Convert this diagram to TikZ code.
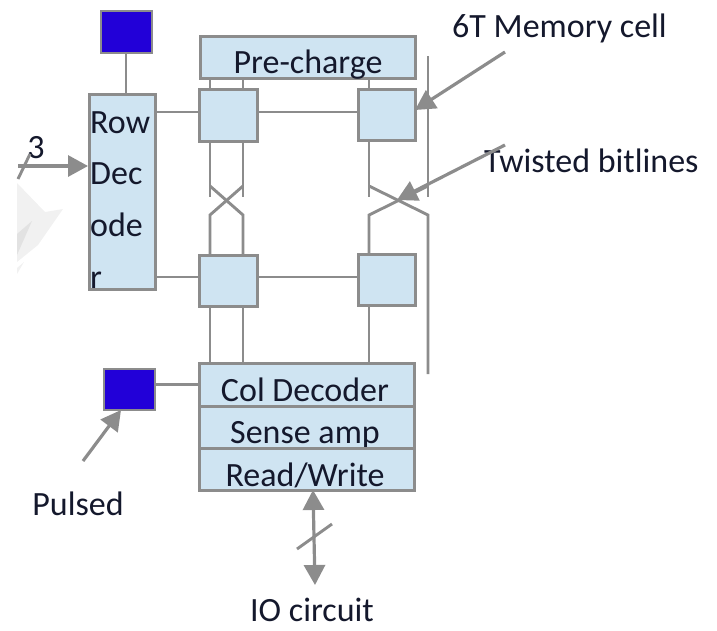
\documentclass[tikz,border=0pt]{standalone}
\usepackage{fontspec}
\setmainfont{Carlito}
\usetikzlibrary{arrows.meta,calc}
\definecolor{cellfill}{HTML}{CFE4F2}
\definecolor{wire}{HTML}{8C8C8C}
\definecolor{pad}{HTML}{2200D8}
\definecolor{ink}{HTML}{14182C}
\definecolor{wm}{HTML}{F1F1F1}
\definecolor{wmdark}{HTML}{E2E2E2}
\tikzset{
  box/.style={draw=wire,fill=cellfill,line width=2.8pt,inner sep=0pt,anchor=north west},
  padbox/.style={draw=wire,fill=pad,line width=2.4pt,inner sep=0pt,anchor=north west},
  conn/.style={draw=wire,line width=2.9pt},
  arrowline/.style={draw=wire,line width=3.2pt,-{Triangle[length=20pt,width=21pt]}},
  bothline/.style={draw=wire,line width=3.2pt,{Triangle[length=20pt,width=21pt]}-{Triangle[length=20pt,width=21pt]}},
  txt/.style={font=\fontsize{34}{34}\selectfont,text=ink,inner sep=0pt,anchor=base},
  ltxt/.style={txt,anchor=base west},
}
\newcommand{\sizedbox}[5]{\node[#5,minimum width=#3pt,minimum height=#4pt] (#1) at (#2) {};}
\begin{document}
\begin{tikzpicture}[x=1pt,y=-1pt]
\useasboundingbox (0,0) rectangle (717,630);
% faint watermark
\fill[wm] (17,183) -- (45,212) -- (63,209) -- (38,245) -- (17,262) -- cycle;
\fill[wmdark] (17,234) -- (32,221) -- (17,255) -- cycle;
\fill[wm] (17,268) -- (24,262) -- (17,274) -- cycle;
% helper coordinates for bitlines
\coordinate (b1) at (210,0);
\coordinate (b2) at (243,0);
\coordinate (b3) at (369,0);
\coordinate (b4) at (428,0);
\coordinate (xtop) at (0,186);
\coordinate (xstub) at (0,197);
\coordinate (xbot) at (0,215);
% boxes
\sizedbox{tp}{100,10}{51}{42}{padbox}
\sizedbox{rd}{88,93}{66}{195}{box}
\sizedbox{pc}{199,35}{215}{42}{box}
\sizedbox{c1}{198,88}{58}{52}{box}
\sizedbox{c2}{357,88}{57}{51}{box}
\sizedbox{c3}{198,254}{58}{51}{box}
\sizedbox{c4}{357,253}{57}{51}{box}
\sizedbox{bp}{103,368}{51}{41}{padbox}
\sizedbox{cd}{198,362}{215}{43}{box}
% bitlines
\draw[conn] (b1 |- pc.south) -- (b1 |- c1.north);
\draw[conn] (b2 |- pc.south) -- (b2 |- c1.north);
\draw[conn] (b3 |- pc.south) -- (b3 |- c2.north);
\draw[conn] (b1 |- c1.south) -- (b1 |- xstub);
\draw[conn] (b2 |- c1.south) -- (b2 |- xstub);
\draw[conn] (b3 |- c2.south) -- (b3 |- xstub);
\coordinate (b4top) at (428,56);
\coordinate (b4end) at (428,374);
\draw[conn] (b4top) -- (b4 |- xstub);
\draw[conn] (b1 |- xtop) -- (b2 |- xbot) -- (b2 |- c3.north);
\draw[conn] (b2 |- xtop) -- (b1 |- xbot) -- (b1 |- c3.north);
\draw[conn] (b3 |- xtop) -- (b4 |- xbot) -- (b4end);
\draw[conn] (b4 |- xtop) -- (b3 |- xbot) -- (b3 |- c4.north);
\draw[conn] (b1 |- c3.south) -- (b1 |- cd.north);
\draw[conn] (b2 |- c3.south) -- (b2 |- cd.north);
\draw[conn] (b3 |- c4.south) -- (b3 |- cd.north);
% wordlines
\coordinate (w1) at (0,112);
\coordinate (w2) at (0,277);
\draw[conn] (rd.east |- w1) -- (c1.west |- w1);
\draw[conn] (c1.east |- w1) -- (c2.west |- w1);
\draw[conn] (rd.east |- w2) -- (c3.west |- w2);
\draw[conn] (c3.east |- w2) -- (c4.west |- w2);
\draw[conn] (tp.south -| 126,0) -- (rd.north -| 126,0);
\draw[conn] (bp.east |- cd.west) -- (cd.west);
% text inside boxes, clipped by their boxes
\begin{scope}
\clip (pc.north west) rectangle (pc.south east);
\node[txt] (pct) at (308,73) {Pre-charge};
\end{scope}
\begin{scope}
\clip (rd.north west) rectangle (rd.south east);
\node[ltxt] (r1) at (90,133) {Row};
\node[ltxt] (r2) at (90,184) {Dec};
\node[ltxt] (r3) at (90,236) {ode};
\node[ltxt] (r4) at (90,288) {r};
\end{scope}
\begin{scope}
\clip (cd.north west) rectangle (cd.south east);
\node[txt] (cdt) at (305,401) {Col Decoder};
\end{scope}
\sizedbox{sa}{198,405}{215}{42}{box}
\begin{scope}
\clip (sa.north west) rectangle (sa.south east);
\node[txt] (sat) at (305,443) {Sense amp};
\end{scope}
\sizedbox{rw}{198,447}{215}{42}{box}
\begin{scope}
\clip (rw.north west) rectangle (rw.south east);
\node[txt] (rwt) at (305,486) {Read/Write};
\end{scope}
% labels
\node[ltxt] (mem) at (452,37) {6T Memory cell};
\node[ltxt] (twi) at (484,172) {Twisted bitlines};
\node[txt] (pul) at (78,515) {Pulsed};
\node[txt] (io) at (312,621) {IO circuit};
\node[txt] (three) at (36,158) {3};
% arrows
\coordinate (a1) at (505,52);
\coordinate (a1e) at (415,110);
\draw[arrowline] (a1) -- (a1e);
\coordinate (a2) at (505,145);
\coordinate (a2e) at (397,200);
\draw[arrowline] (a2) -- (a2e);
\coordinate (a3) at (83,461);
\coordinate (a3e) at (121,410);
\draw[arrowline] (a3) -- (a3e);
\coordinate (a4) at (18,166);
\draw[arrowline] (a4) -- (rd.west |- a4);
\coordinate (s1) at (18,179);
\coordinate (s2) at (30,154);
\draw[conn] (s1) -- (s2);
\coordinate (a5) at (313,490);
\coordinate (a5e) at (315,585);
\draw[bothline] (a5) -- (a5e);
\coordinate (s3) at (297,549);
\coordinate (s4) at (332,524);
\draw[conn] (s3) -- (s4);
\end{tikzpicture}
\end{document}
